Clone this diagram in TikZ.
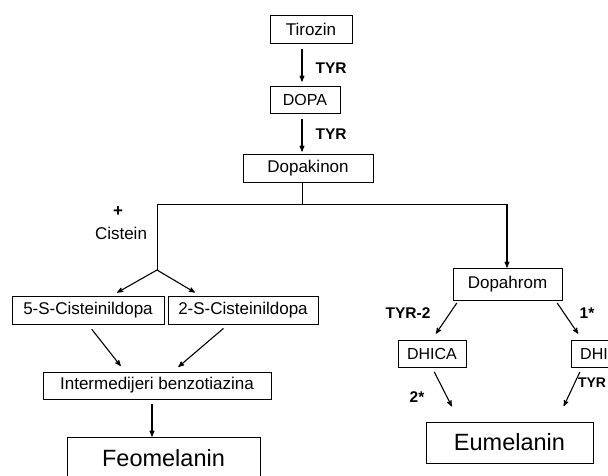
\documentclass[tikz,border=0pt]{standalone}
\usepackage{fontspec}
\setmainfont{Liberation Sans}
\usepackage{tikz}
\usetikzlibrary{arrows}

\begin{document}
\begin{tikzpicture}[x=1pt,y=-1pt,>=stealth',line width=1pt,
		box/.style={draw,inner sep=0pt,font=\fontsize{17}{20}\selectfont},
		small box/.style={box,font=\fontsize{16}{19}\selectfont},
		big box/.style={box,font=\fontsize{23.5}{27}\selectfont},
		enzyme/.style={inner sep=0pt,font=\bfseries\fontsize{15.5}{18}\selectfont},
		reaction/.style={->,line width=1.1pt}]
		
		\clip (0,0) rectangle (608,475);
		
		\node[box] (tir) at (311,29.5) [minimum width=82pt,minimum height=28pt] {Tirozin};
		\node[small box] (dopa) at (305,99.5) [minimum width=70pt,minimum height=27pt] {DOPA};
		\node[box] (dopak) at (308,168) [minimum width=130pt,minimum height=28pt] {Dopakinon};
		\node[box] (dopah) at (507.5,284) [minimum width=109pt,minimum height=32pt] {Dopahrom};
		\node[box] (cys5) at (88,310) [minimum width=152pt,minimum height=28pt] {5-S-Cisteinildopa};
		\node[box] (cys2) at (243,310) [minimum width=150pt,minimum height=28pt] {2-S-Cisteinildopa};
		\node[box] (inter) at (157,385.5) [minimum width=228pt,minimum height=27pt] {Intermedijeri benzotiazina};
		\node[big box] (feo) at (163.5,458) [minimum width=193pt,minimum height=42pt] {Feomelanin};
		\node[small box] (dhica) at (432,353.5) [minimum width=68pt,minimum height=27pt] {DHICA};
		\node[small box] (dhi) at (594,353.5) [minimum width=46pt,minimum height=27pt] {DHI};
		\node[big box] (eu) at (509.5,442.5) [minimum width=167pt,minimum height=41pt] {Eumelanin};
		
		\coordinate (ax) at (302,0);
		\coordinate (split) at (302,204);
		\coordinate (lft) at (157,204);
		\coordinate (rgt) at (507,204);
		\coordinate (fork) at (157,270);
		
		% gornji dio
		\draw[reaction,shorten <=5pt,shorten >=4pt] (tir.south -| ax) -- (dopa.north -| ax)
			node[enzyme,midway,right=13pt,yshift=-3pt] (tyr1) {TYR};
		\draw[reaction,shorten <=5pt,shorten >=2pt] (dopa.south -| ax) -- (dopak.north -| ax)
			node[enzyme,midway,right=13pt,yshift=-1pt] (tyr2) {TYR};
		\draw (dopak.south -| ax) -- (split);
		\draw (lft) -- (rgt);
		\draw[reaction] (rgt) -- (dopah.north -| rgt);
		
		% feomelanin
		\draw (lft) -- (fork);
		\node[inner sep=0pt,font=\bfseries\fontsize{17}{20}\selectfont] (plus) at (118,212) {+};
		\node[inner sep=0pt,font=\fontsize{17}{20}\selectfont] (cys) at (121,233) {Cistein};
		\draw[reaction,shorten >=6pt] (fork) -- (cys5.north -| 112,0);
		\draw[reaction,shorten >=6pt] (fork) -- (cys2.north -| 200,0);
		\draw[reaction,shorten <=6pt,shorten >=7pt] (cys5.south) -- ([xshift=-32pt]inter.north);
		\draw[reaction,shorten <=6pt,shorten >=7pt] ([xshift=-15pt]cys2.south) -- ([xshift=16pt]inter.north);
		\draw[reaction,shorten <=4pt] ([xshift=-5pt]inter.south) -- ([xshift=-5pt]inter.south |- feo.north);
		
		% eumelanin
		\draw[reaction,shorten <=3pt,shorten >=7pt] ([xshift=-49pt]dopah.south) -- (dhica.north);
		\draw[reaction,shorten <=3pt,shorten >=7pt] ([xshift=48pt]dopah.south) -- ([xshift=-12pt]dhi.north);
		\draw[reaction,shorten <=5pt,shorten >=17pt] (dhica.south) -- ([xshift=-50pt]eu.north);
		\draw[reaction,shorten <=5pt,shorten >=17pt] ([xshift=-12pt]dhi.south) -- ([xshift=47pt]eu.north);
		\node[enzyme] (tyr3) at (408,313) {TYR-2};
		\node[enzyme] (one) at (587,313) {1*};
		\node[enzyme] (two) at (417,397) {2*};
		\node[enzyme,anchor=east,font=\bfseries\fontsize{14}{17}\selectfont] (tyr4) at (606.5,383) {TYR};
		\end{tikzpicture}
\end{document}
